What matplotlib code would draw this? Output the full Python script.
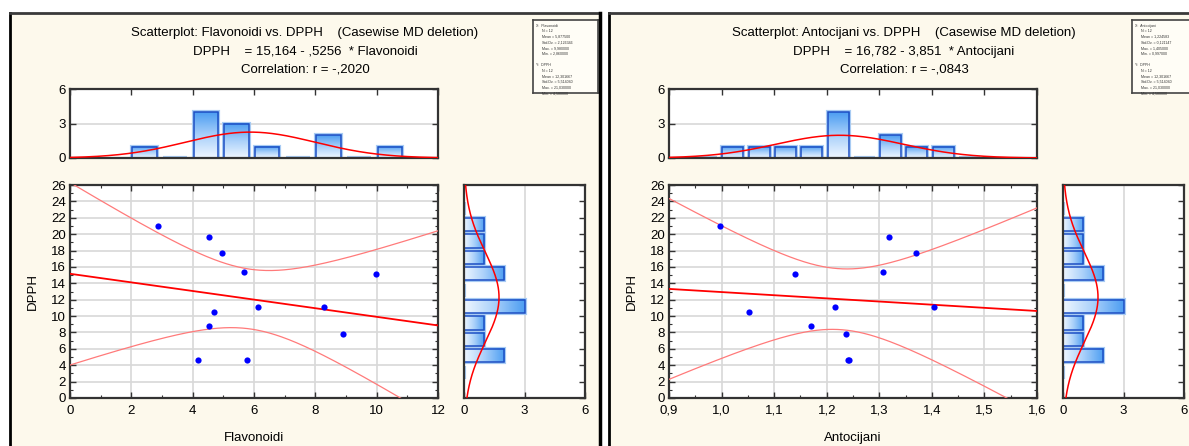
import numpy as np
import matplotlib.pyplot as plt
from matplotlib.patches import Rectangle
from matplotlib.lines import Line2D
from matplotlib.colors import LinearSegmentedColormap

plt.rcParams['font.family'] = ['Liberation Sans', 'DejaVu Sans']

# values
dpph       = [21.03, 19.68, 17.73, 15.42, 15.10, 11.15, 11.15, 10.49, 8.84, 7.87, 4.58, 4.58]
flavonoidi = [2.86, 4.54, 4.97, 5.67, 9.98, 6.12, 8.29, 4.70, 4.54, 8.91, 4.18, 5.77]
antocijani = [0.997, 1.318, 1.369, 1.308, 1.139, 1.216, 1.405, 1.053, 1.170, 1.236, 1.241, 1.243]

# regression coefficients from the titles (intercept, slope)
fit_flav = (15.164, -0.5256)
fit_anto = (16.782, -3.851)

# histogram bins (start) and counts
flav_bins   = [2, 3, 4, 5, 6, 7, 8, 9, 10]
flav_counts = [1, 0, 4, 3, 1, 0, 2, 0, 1]
anto_bins   = [0.95, 1.00, 1.05, 1.10, 1.15, 1.20, 1.25, 1.30, 1.35, 1.40, 1.45]
anto_counts = [0, 1, 1, 1, 1, 4, 0, 2, 1, 1, 0]
dpph_bins   = [2, 4, 6, 8, 10, 12, 14, 16, 18, 20, 22]
dpph_counts = [0, 2, 1, 1, 3, 0, 2, 1, 1, 1, 0]

titles = [
    ["Scatterplot: Flavonoidi vs. DPPH    (Casewise MD deletion)",
     "DPPH    = 15,164 - ,5256  * Flavonoidi",
     "Correlation: r = -,2020"],
    ["Scatterplot: Antocijani vs. DPPH    (Casewise MD deletion)",
     "DPPH    = 16,782 - 3,851  * Antocijani",
     "Correlation: r = -,0843"],
]

W, H = 1189, 446
CREAM = '#fdf9ec'
SPINE = '#333333'
T95 = 2.228  # t(10), 95%

grad = LinearSegmentedColormap.from_list('g', ['#eef6ff', '#a9d0fa', '#4d9ef2'])

fig = plt.figure(figsize=(W / 100, H / 100), dpi=100, facecolor='white')


def box(x0, y0, x1, y1):
    return [x0 / W, 1 - y1 / H, (x1 - x0) / W, (y1 - y0) / H]


def comma(v, nd):
    return f"{v:.{nd}f}".replace('.', ',')


def style(ax):
    for s in ax.spines.values():
        s.set_color(SPINE)
        s.set_linewidth(1.6)
    ax.tick_params(which='major', direction='in', length=4, width=1, color=SPINE,
                   labelsize=9.5, top=True, right=True, pad=3)
    ax.tick_params(which='minor', direction='in', length=2.5, width=0.8, color=SPINE,
                   top=True, right=True)
    ax.set_facecolor('white')


def gbar(ax, start, width, count, horizontal):
    # gradient filled bar, Statistica style
    if horizontal:
        y0 = start + 0.18 * width
        h = 0.8 * width
        if count > 0:
            ax.imshow(np.linspace(0, 1, 64).reshape(1, -1), cmap=grad, aspect='auto',
                      extent=(0, count, y0, y0 + h), zorder=2, interpolation='bilinear')
        ax.add_patch(Rectangle((0, y0), count, h, fill=False, ec='#a8cbf3', lw=3, zorder=1.9))
        ax.add_patch(Rectangle((0, y0), count, h, fill=False, ec='#1d4fc4', lw=1.1, zorder=2.1))
    else:
        x0 = start + 0.03 * width
        w = 0.8 * width
        if count > 0:
            ax.imshow(np.linspace(0, 1, 64).reshape(-1, 1), cmap=grad, aspect='auto', origin='lower',
                      extent=(x0, x0 + w, 0, count), zorder=2, interpolation='bilinear')
        ax.add_patch(Rectangle((x0, 0), w, count, fill=False, ec='#a8cbf3', lw=3, zorder=1.9))
        ax.add_patch(Rectangle((x0, 0), w, count, fill=False, ec='#1d4fc4', lw=1.1, zorder=2.1))


def normal(vals, bw, lo, hi, n=300):
    v = np.asarray(vals)
    m, sd = v.mean(), v.std(ddof=1)
    g = np.linspace(lo, hi, n)
    return g, len(v) * bw * np.exp(-0.5 * ((g - m) / sd) ** 2) / (sd * np.sqrt(2 * np.pi))


def panel(off, xs, name, fit, bins, counts, xlim, xstep, xminor, nd, title):
    xs = np.asarray(xs)
    ys = np.asarray(dpph)
    bw = bins[1] - bins[0]

    # background + frame
    fig.add_artist(Rectangle(((10 + off) / W, 0), 590 / W, 1 - 13 / H, transform=fig.transFigure,
                             fc=CREAM, ec='none', zorder=-5))
    fig.add_artist(Line2D([(10 + off) / W] * 2, [0, 1 - 13 / H], transform=fig.transFigure,
                          color='black', lw=2))
    fig.add_artist(Line2D([(10 + off) / W, (600 + off) / W], [1 - 13 / H] * 2, transform=fig.transFigure,
                          color='#3a3a3a', lw=2))
    fig.add_artist(Line2D([(600 + off) / W] * 2, [0, 1 - 13 / H], transform=fig.transFigure,
                          color='black', lw=2.5))

    for t, yy in zip(title, [33, 52, 70]):
        fig.text((305 + off) / W, 1 - yy / H, t, ha='center', va='center', fontsize=9.5)

    # main scatter
    ax = fig.add_axes(box(70 + off, 185, 438 + off, 398))
    style(ax)
    ax.scatter(xs, ys, s=20, color='#0000ff', zorder=4, linewidths=0)
    a, b = fit
    g = np.linspace(xlim[0], xlim[1], 300)
    yh = a + b * g
    n = len(xs)
    s = np.sqrt(np.sum((ys - (a + b * xs)) ** 2) / (n - 2))
    sxx = np.sum((xs - xs.mean()) ** 2)
    w = T95 * s * np.sqrt(1 / n + (g - xs.mean()) ** 2 / sxx)
    ax.plot(g, yh, color='#ff0000', lw=1.3, zorder=3)
    ax.plot(g, yh + w, color='#ff7a7a', lw=0.9, zorder=3)
    ax.plot(g, yh - w, color='#ff7a7a', lw=0.9, zorder=3)
    ax.set_xlim(xlim)
    ax.set_ylim(0, 26)
    xt = np.arange(xlim[0], xlim[1] + xstep / 2, xstep)
    ax.set_xticks(xt)
    ax.set_xticklabels([comma(v, nd) for v in xt])
    ax.set_xticks(np.arange(xlim[0], xlim[1] + 1e-9, xminor), minor=True)
    ax.set_yticks(range(0, 27, 2))
    ax.set_yticks(range(0, 27, 1), minor=True)
    ax.tick_params(axis='x', which='major', pad=5)
    ax.grid(True, which='major', color='#d8d8d8', lw=1.2, zorder=0)
    ax.set_axisbelow(True)
    ax.set_xlabel(name, fontsize=9.5, labelpad=11)
    ax.set_ylabel('DPPH', fontsize=9.5, labelpad=9)

    # top histogram
    ht = fig.add_axes(box(70 + off, 89, 438 + off, 158))
    style(ht)
    for st, c in zip(bins, counts):
        gbar(ht, st, bw, c, False)
    gx, gy = normal(xs, bw, xlim[0], xlim[1])
    ht.plot(gx, gy, color='#ff0000', lw=1.1, zorder=3)
    ht.set_xlim(xlim)
    ht.set_ylim(0, 6)
    ht.set_xticks(xt)
    ht.set_xticklabels([])
    ht.tick_params(axis='x', bottom=False)
    ht.set_yticks([0, 3, 6])
    ht.grid(True, axis='y', color='#d8d8d8', lw=1.2, zorder=0)
    ht.set_axisbelow(True)

    # right histogram
    hr = fig.add_axes(box(464 + off, 185, 585 + off, 398))
    style(hr)
    for st, c in zip(dpph_bins, dpph_counts):
        gbar(hr, st, dpph_bins[1] - dpph_bins[0], c, True)
    gy2, gx2 = normal(ys, dpph_bins[1] - dpph_bins[0], 0, 26)
    hr.plot(gx2, gy2, color='#ff0000', lw=1.1, zorder=3)
    hr.set_xlim(0, 6)
    hr.set_ylim(0, 26)
    hr.set_xticks([0, 3, 6])
    hr.set_yticks(range(0, 27, 2))
    hr.set_yticklabels([])
    hr.tick_params(axis='y', left=False)
    hr.tick_params(axis='x', top=False, pad=5)
    hr.grid(True, axis='x', color='#d8d8d8', lw=1.2, zorder=0)
    hr.set_axisbelow(True)

    # stats box
    lg = fig.add_axes(box(533 + off, 20, 598 + off, 93))
    lg.set_xticks([])
    lg.set_yticks([])
    lg.set_facecolor('#fffdf6')
    for sp in lg.spines.values():
        sp.set_color('#444444')
        sp.set_linewidth(1.2)
    lines = []
    for lab, v in (('X:  ' + name, xs), ('Y:  DPPH', ys)):
        lines.append(lab)
        lines.append('      N = %d' % len(v))
        lines.append('      Mean = ' + comma(v.mean(), 6))
        lines.append('      Std.Dv. = ' + comma(v.std(ddof=1), 6))
        lines.append('      Max. = ' + comma(v.max(), 6))
        lines.append('      Min. = ' + comma(v.min(), 6))
        lines.append('')
    for i, ln in enumerate(lines[:-1]):
        lg.text(0.05, 0.95 - i * 0.077, ln, fontsize=2.6, va='top', ha='left',
                transform=lg.transAxes, color='#333333')


panel(0, flavonoidi, 'Flavonoidi', fit_flav, flav_bins, flav_counts, (0, 12), 2, 1, 0, titles[0])
panel(599, antocijani, 'Antocijani', fit_anto, anto_bins, anto_counts, (0.9, 1.6), 0.1, 0.05, 1, titles[1])

fig.savefig('out.png', dpi=100, facecolor='white')
